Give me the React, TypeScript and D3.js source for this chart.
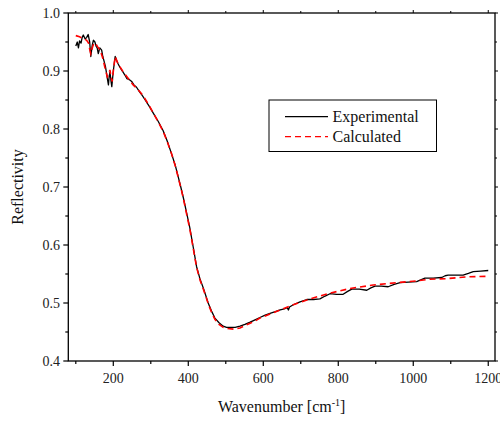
import React from "react";
import * as d3 from "d3";

const expWavenumber = [100,104,107,110,114,117,120,125,129,133,137,140,144,147,151,154,157,160,164,169,172,175,179,182,185,187,189,191,194,196,200,205,209,213,218,222,226,231,236,240,245,249,255,262,270,278,285,296,307,320,333,344,355,365,373,380,387,395,404,413,422,431,440,447,453,462,471,482,493,502,511,525,538,551,565,578,591,605,618,632,645,656,664,667,670,680,698,716,734,751,765,778,795,813,825,836,856,876,887,898,915,933,949,965,987,1009,1020,1031,1053,1076,1085,1093,1113,1133,1147,1160,1180,1200];
const expReflectivity = [0.943,0.950,0.940,0.952,0.948,0.958,0.962,0.955,0.958,0.963,0.950,0.925,0.945,0.953,0.950,0.943,0.940,0.930,0.940,0.936,0.925,0.918,0.908,0.896,0.884,0.876,0.890,0.898,0.882,0.873,0.900,0.925,0.918,0.912,0.906,0.902,0.898,0.893,0.887,0.886,0.884,0.882,0.876,0.872,0.864,0.857,0.850,0.839,0.827,0.813,0.797,0.779,0.758,0.738,0.718,0.700,0.681,0.657,0.630,0.597,0.563,0.542,0.526,0.512,0.500,0.486,0.474,0.466,0.460,0.458,0.458,0.458,0.460,0.463,0.467,0.471,0.475,0.479,0.482,0.485,0.488,0.490,0.492,0.488,0.493,0.497,0.502,0.506,0.506,0.507,0.512,0.516,0.515,0.515,0.520,0.524,0.524,0.522,0.526,0.529,0.529,0.528,0.532,0.535,0.536,0.537,0.540,0.543,0.543,0.544,0.547,0.548,0.548,0.548,0.551,0.554,0.555,0.556];

const calcWavenumber = [100,110,120,129,134,138,140,144,148,152,158,165,172,178,184,188,191,194,197,201,205,211,218,228,240,253,266,280,296,307,320,333,344,355,365,373,380,387,395,404,413,422,431,440,447,453,462,471,482,493,505,521,538,551,565,578,591,618,645,680,724,778,831,893,955,1009,1044,1089,1142,1200];
const calcReflectivity = [0.961,0.959,0.956,0.953,0.948,0.935,0.930,0.940,0.948,0.948,0.942,0.936,0.922,0.905,0.890,0.895,0.902,0.890,0.882,0.905,0.925,0.915,0.907,0.897,0.887,0.876,0.868,0.857,0.840,0.827,0.812,0.796,0.778,0.758,0.737,0.717,0.699,0.680,0.655,0.628,0.595,0.562,0.540,0.524,0.511,0.499,0.484,0.472,0.463,0.458,0.456,0.455,0.457,0.461,0.465,0.469,0.474,0.481,0.488,0.497,0.507,0.517,0.525,0.531,0.535,0.538,0.541,0.542,0.545,0.546];

const xMajorTicks = [200,400,600,800,1000,1200];
const xMinorTicks = [100,300,500,700,900,1100];
const yMajorTicks = [0.4,0.5,0.6,0.7,0.8,0.9,1.0];
const yMinorTicks = [0.45,0.55,0.65,0.75,0.85,0.95];
const seriesNames = ["Experimental","Calculated"];

const W = 500, H = 421;
const L = 68.3, R = 495, T = 13, B = 361;
const FONT = '"Liberation Serif", "DejaVu Serif", serif';
const ts = { fontFamily: FONT };

export default function App() {
  const x = d3.scaleLinear().domain([80, 1218]).range([L, R]);
  const y = d3.scaleLinear().domain([0.4, 1.0]).range([B, T]);
  const line = d3.line<[number, number]>().x(d => x(d[0])).y(d => y(d[1]));
  const expPts = expWavenumber.map((v, i) => [v, expReflectivity[i]] as [number, number]);
  const calcPts = calcWavenumber.map((v, i) => [v, calcReflectivity[i]] as [number, number]);

  return (
    <svg width={W} height={H} style={{ position: "absolute", left: 0, top: 0, background: "#fff", fontFamily: FONT }}>
      <rect x={0} y={0} width={W} height={H} fill="#fff" />
      <path d={line(expPts) || ""} fill="none" stroke="#000" strokeWidth={1.3} strokeLinejoin="round" />
      <path d={line(calcPts) || ""} fill="none" stroke="#ff0000" strokeWidth={1.6} strokeDasharray="6,4" />
      <rect x={L} y={T} width={R - L} height={B - T} fill="none" stroke="#000" strokeWidth={1.3} />
      {xMajorTicks.map(t => (
        <g key={"xm" + t}>
          <line x1={x(t)} x2={x(t)} y1={B} y2={B + 5} stroke="#000" strokeWidth={1.2} />
          <line x1={x(t)} x2={x(t)} y1={T} y2={T - 3} stroke="#000" strokeWidth={1} />
          <text x={x(t)} y={383} fontSize={14} textAnchor="middle" fill="#222" style={ts}>{t}</text>
        </g>
      ))}
      {xMinorTicks.map(t => (
        <g key={"xn" + t}>
          <line x1={x(t)} x2={x(t)} y1={B} y2={B + 3} stroke="#000" strokeWidth={1.2} />
          <line x1={x(t)} x2={x(t)} y1={T} y2={T - 2} stroke="#000" strokeWidth={1} />
        </g>
      ))}
      {yMajorTicks.map(t => (
        <g key={"ym" + t}>
          <line x1={L} x2={L - 5} y1={y(t)} y2={y(t)} stroke="#000" strokeWidth={1.2} />
          <line x1={R} x2={R + 3} y1={y(t)} y2={y(t)} stroke="#000" strokeWidth={1} />
          <text x={60} y={y(t)} dy="0.35em" fontSize={14} textAnchor="end" fill="#222" style={ts}>{t.toFixed(1)}</text>
        </g>
      ))}
      {yMinorTicks.map(t => (
        <g key={"yn" + t}>
          <line x1={L} x2={L - 3} y1={y(t)} y2={y(t)} stroke="#000" strokeWidth={1.2} />
          <line x1={R} x2={R + 2} y1={y(t)} y2={y(t)} stroke="#000" strokeWidth={1} />
        </g>
      ))}
      <text x={(L + R) / 2} y={412} fontSize={16} textAnchor="middle" fill="#111" style={ts}>
        Wavenumber [cm<tspan dy={-6} fontSize={10}>-1</tspan><tspan dy={6}>]</tspan>
      </text>
      <text transform={`translate(23,${(T + B) / 2}) rotate(-90)`} fontSize={16} textAnchor="middle" fill="#111" style={ts}>Reflectivity</text>
      <g>
        <rect x={269} y={100} width={167.5} height={51.5} fill="#fff" stroke="#000" strokeWidth={1} />
        <line x1={285} x2={328} y1={116.7} y2={116.7} stroke="#000" strokeWidth={1.3} />
        <text x={332.5} y={122} fontSize={16} fill="#111" style={ts}>{seriesNames[0]}</text>
        <line x1={285} x2={328} y1={136.7} y2={136.7} stroke="#ff0000" strokeWidth={1.3} strokeDasharray="6,4" />
        <text x={332.5} y={142} fontSize={16} fill="#111" style={ts}>{seriesNames[1]}</text>
      </g>
    </svg>
  );
}
